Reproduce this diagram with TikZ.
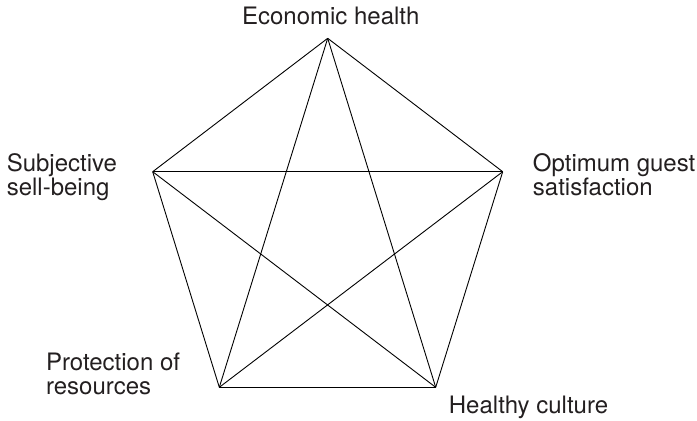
\documentclass[tikz,border=0pt]{standalone}
\usepackage{fontspec}
\setmainfont{TeX Gyre Heros}
\usetikzlibrary{positioning}
\definecolor{textgray}{HTML}{231F20}
\tikzset{
  lbl/.style={inner sep=0pt, align=left, text=textgray, font=\fontsize{24bp}{24bp}\selectfont},
  edge/.style={line width=0.9bp, black}
}
\begin{document}
\begin{tikzpicture}[x=1bp, y=-1bp]
\useasboundingbox (0,0) rectangle (697,420);
\coordinate (eco) at (327.7,38.3);
\coordinate (sub) at (152.7,171.7);
\coordinate (opt) at (502.7,171.7);
\coordinate (pro) at (219.3,387.3);
\coordinate (hea) at (435.7,387.3);
\node[lbl, above=13bp of eco, xshift=3bp] (ecolbl) {Economic health};
\node[lbl, left=35.5bp of sub, yshift=-5bp] (sublbl) {Subjective\\sell-being};
\node[lbl, right=30bp of opt, yshift=-3bp] (optlbl) {Optimum guest\\satisfaction};
\node[lbl, left=39bp of pro, yshift=13bp] (prolbl) {Protection of\\resources};
\node[lbl, right=13bp of hea, yshift=-20bp] (healbl) {Healthy culture};
% pentagon
\draw[edge] (eco) -- (opt);
\draw[edge] (opt) -- (hea);
\draw[edge] (hea) -- (pro);
\draw[edge] (pro) -- (sub);
\draw[edge] (sub) -- (eco);
% star
\draw[edge] (eco) -- (pro);
\draw[edge] (eco) -- (hea);
\draw[edge] (sub) -- (opt);
\draw[edge] (sub) -- (hea);
\draw[edge] (opt) -- (pro);
\end{tikzpicture}
\end{document}
